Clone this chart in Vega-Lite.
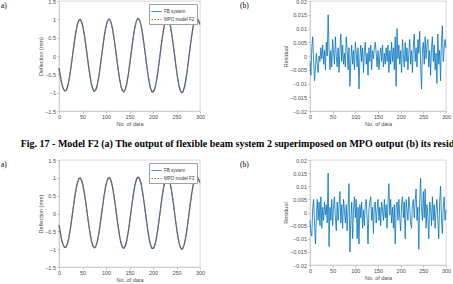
{
  "$schema": "https://vega.github.io/schema/vega-lite/v6.json",
  "padding": {"left": 0, "top": -2, "right": 0, "bottom": 0},
  "background": "white",
  "resolve": {"scale": {"color": "independent", "strokeDash": "independent"}, "legend": {"color": "independent", "strokeDash": "independent"}},
  "config": {
    "font": "Liberation Sans",
    "view": {"stroke": "#bdbdbd", "strokeWidth": 0.6},
    "axis": {
      "labelFontSize": 5.5, "titleFontSize": 5.5, "labelColor": "#4d4d4d", "titleColor": "#4d4d4d",
      "titleFontWeight": "normal", "domainColor": "#bdbdbd", "domainWidth": 0.6, "tickColor": "#bdbdbd",
      "tickSize": 2, "grid": false, "labelPadding": 1.5, "titlePadding": 1.5, "labelFlush": false, "labelOverlap": false
    },
    "title": {"font": "Liberation Serif", "fontSize": 7.5, "fontWeight": "normal", "color": "#000000", "anchor": "start", "frame": "group"}
  },
  "datasets": {
    "sine": [
      {"x":0,"fb":-0.33,"mpo":-0.33},{"x":3,"fb":-0.55,"mpo":-0.55},{"x":6,"fb":-0.76,"mpo":-0.76},{"x":9,"fb":-0.89,"mpo":-0.89},{"x":12,"fb":-0.95,"mpo":-0.95},
      {"x":15,"fb":-0.94,"mpo":-0.94},{"x":18,"fb":-0.85,"mpo":-0.85},{"x":21,"fb":-0.679,"mpo":-0.679},{"x":24,"fb":-0.445,"mpo":-0.445},{"x":27,"fb":-0.167,"mpo":-0.167},
      {"x":30,"fb":0.128,"mpo":0.128},{"x":33,"fb":0.414,"mpo":0.414},{"x":36,"fb":0.664,"mpo":0.664},{"x":39,"fb":0.855,"mpo":0.855},{"x":42,"fb":0.97,"mpo":0.97},
      {"x":45,"fb":0.997,"mpo":0.997},{"x":48,"fb":0.935,"mpo":0.935},{"x":51,"fb":0.789,"mpo":0.789},{"x":54,"fb":0.572,"mpo":0.572},{"x":57,"fb":0.304,"mpo":0.304},
      {"x":60,"fb":0.01,"mpo":0.01},{"x":63,"fb":-0.284,"mpo":-0.284},{"x":66,"fb":-0.55,"mpo":-0.55},{"x":69,"fb":-0.764,"mpo":-0.764},{"x":72,"fb":-0.907,"mpo":-0.907},
      {"x":75,"fb":-0.964,"mpo":-0.964},{"x":78,"fb":-0.932,"mpo":-0.932},{"x":81,"fb":-0.812,"mpo":-0.812},{"x":84,"fb":-0.616,"mpo":-0.616},{"x":87,"fb":-0.36,"mpo":-0.36},
      {"x":90,"fb":-0.07,"mpo":-0.07},{"x":93,"fb":0.229,"mpo":0.229},{"x":96,"fb":0.509,"mpo":0.509},{"x":99,"fb":0.744,"mpo":0.744},{"x":102,"fb":0.913,"mpo":0.913},
      {"x":105,"fb":1.001,"mpo":1.001},{"x":108,"fb":0.999,"mpo":0.999},{"x":111,"fb":0.906,"mpo":0.906},{"x":114,"fb":0.733,"mpo":0.733},{"x":117,"fb":0.494,"mpo":0.494},
      {"x":120,"fb":0.211,"mpo":0.211},{"x":123,"fb":-0.09,"mpo":-0.09},{"x":126,"fb":-0.381,"mpo":-0.381},{"x":129,"fb":-0.636,"mpo":-0.636},{"x":132,"fb":-0.831,"mpo":-0.831},
      {"x":135,"fb":-0.948,"mpo":-0.948},{"x":138,"fb":-0.976,"mpo":-0.976},{"x":141,"fb":-0.913,"mpo":-0.913},{"x":144,"fb":-0.764,"mpo":-0.764},{"x":147,"fb":-0.543,"mpo":-0.543},
      {"x":150,"fb":-0.27,"mpo":-0.27},{"x":153,"fb":0.03,"mpo":0.03},{"x":156,"fb":0.329,"mpo":0.329},{"x":159,"fb":0.6,"mpo":0.6},{"x":162,"fb":0.819,"mpo":0.819},
      {"x":165,"fb":0.964,"mpo":0.964},{"x":168,"fb":1.023,"mpo":1.023},{"x":171,"fb":0.99,"mpo":0.99},{"x":174,"fb":0.867,"mpo":0.867},{"x":177,"fb":0.668,"mpo":0.668},
      {"x":180,"fb":0.408,"mpo":0.408},{"x":183,"fb":0.112,"mpo":0.112},{"x":186,"fb":-0.192,"mpo":-0.192},{"x":189,"fb":-0.477,"mpo":-0.477},{"x":192,"fb":-0.718,"mpo":-0.718},
      {"x":195,"fb":-0.89,"mpo":-0.89},{"x":198,"fb":-0.979,"mpo":-0.979},{"x":201,"fb":-0.977,"mpo":-0.977},{"x":204,"fb":-0.883,"mpo":-0.883},{"x":207,"fb":-0.706,"mpo":-0.706},
      {"x":210,"fb":-0.463,"mpo":-0.463},{"x":213,"fb":-0.174,"mpo":-0.174},{"x":216,"fb":0.132,"mpo":0.132},{"x":219,"fb":0.429,"mpo":0.429},{"x":222,"fb":0.688,"mpo":0.688},
      {"x":225,"fb":0.886,"mpo":0.886},{"x":228,"fb":1.006,"mpo":1.006},{"x":231,"fb":1.034,"mpo":1.034},{"x":234,"fb":0.97,"mpo":0.97},{"x":237,"fb":0.818,"mpo":0.818},
      {"x":240,"fb":0.594,"mpo":0.594},{"x":243,"fb":0.316,"mpo":0.316},{"x":246,"fb":0.01,"mpo":0.01},{"x":249,"fb":-0.295,"mpo":-0.295},{"x":252,"fb":-0.571,"mpo":-0.571},
      {"x":255,"fb":-0.793,"mpo":-0.793},{"x":258,"fb":-0.941,"mpo":-0.941},{"x":261,"fb":-1.001,"mpo":-1.001},{"x":264,"fb":-0.968,"mpo":-0.968},{"x":267,"fb":-0.843,"mpo":-0.843},
      {"x":270,"fb":-0.64,"mpo":-0.64},{"x":273,"fb":-0.375,"mpo":-0.375},{"x":276,"fb":-0.074,"mpo":-0.074},{"x":279,"fb":0.236,"mpo":0.236},{"x":282,"fb":0.526,"mpo":0.526},
      {"x":285,"fb":0.771,"mpo":0.771},{"x":288,"fb":0.947,"mpo":0.947},{"x":291,"fb":1.038,"mpo":1.038},{"x":294,"fb":1.036,"mpo":1.036},{"x":297,"fb":0.96,"mpo":0.96},
      {"x":300,"fb":0.86,"mpo":0.86}
    ],
    "res2": [
      {"x":0,"r":-0.002},{"x":2,"r":-0.007},{"x":4,"r":0.003},{"x":6,"r":0.007},{"x":8,"r":-0.002},{"x":10,"r":-0.009},{"x":12,"r":-0.004},{"x":14,"r":0.001},{"x":16,"r":-0.003},{"x":18,"r":-0.006},
      {"x":20,"r":0.0},{"x":22,"r":-0.002},{"x":24,"r":0.003},{"x":26,"r":-0.001},{"x":28,"r":0.004},{"x":30,"r":-0.003},{"x":32,"r":0.002},{"x":34,"r":-0.005},{"x":36,"r":0.005},{"x":38,"r":0.0},
      {"x":40,"r":0.015},{"x":42,"r":0.003},{"x":44,"r":-0.005},{"x":46,"r":0.002},{"x":48,"r":-0.004},{"x":50,"r":0.006},{"x":52,"r":0.001},{"x":54,"r":-0.003},{"x":56,"r":0.007},{"x":58,"r":0.0},
      {"x":60,"r":-0.004},{"x":62,"r":0.003},{"x":64,"r":-0.006},{"x":66,"r":0.002},{"x":68,"r":0.008},{"x":70,"r":-0.002},{"x":72,"r":0.004},{"x":74,"r":-0.003},{"x":76,"r":0.001},{"x":78,"r":-0.004},
      {"x":80,"r":0.007},{"x":82,"r":0.002},{"x":84,"r":-0.005},{"x":86,"r":0.003},{"x":88,"r":-0.011},{"x":90,"r":-0.002},{"x":92,"r":0.004},{"x":94,"r":-0.003},{"x":96,"r":0.002},{"x":98,"r":-0.005},
      {"x":100,"r":0.005},{"x":102,"r":0.001},{"x":104,"r":-0.004},{"x":106,"r":0.003},{"x":108,"r":-0.012},{"x":110,"r":-0.001},{"x":112,"r":0.004},{"x":114,"r":-0.002},{"x":116,"r":0.003},{"x":118,"r":-0.006},
      {"x":120,"r":0.002},{"x":122,"r":0.005},{"x":124,"r":-0.003},{"x":126,"r":0.001},{"x":128,"r":-0.007},{"x":130,"r":0.003},{"x":132,"r":-0.002},{"x":134,"r":0.004},{"x":136,"r":-0.005},{"x":138,"r":0.002},
      {"x":140,"r":-0.001},{"x":142,"r":0.003},{"x":144,"r":0.005},{"x":146,"r":0.001},{"x":148,"r":-0.004},{"x":150,"r":0.002},{"x":152,"r":-0.005},{"x":154,"r":0.0},{"x":156,"r":0.003},{"x":158,"r":-0.002},
      {"x":160,"r":0.004},{"x":162,"r":-0.004},{"x":164,"r":0.001},{"x":166,"r":-0.003},{"x":168,"r":0.003},{"x":170,"r":-0.002},{"x":172,"r":0.004},{"x":174,"r":-0.006},{"x":176,"r":0.002},{"x":178,"r":-0.003},
      {"x":180,"r":0.005},{"x":182,"r":-0.002},{"x":184,"r":0.003},{"x":186,"r":-0.005},{"x":188,"r":0.007},{"x":190,"r":-0.011},{"x":192,"r":0.01},{"x":194,"r":-0.001},{"x":196,"r":0.004},{"x":198,"r":-0.003},
      {"x":200,"r":0.002},{"x":202,"r":-0.006},{"x":204,"r":0.006},{"x":206,"r":0.0},{"x":208,"r":-0.004},{"x":210,"r":0.005},{"x":212,"r":-0.002},{"x":214,"r":0.003},{"x":216,"r":-0.005},{"x":218,"r":0.001},
      {"x":220,"r":0.006},{"x":222,"r":-0.003},{"x":224,"r":0.002},{"x":226,"r":-0.006},{"x":228,"r":0.004},{"x":230,"r":0.008},{"x":232,"r":-0.002},{"x":234,"r":0.003},{"x":236,"r":-0.004},{"x":238,"r":0.006},
      {"x":240,"r":0.001},{"x":242,"r":0.009},{"x":244,"r":-0.003},{"x":246,"r":-0.012},{"x":248,"r":0.002},{"x":250,"r":0.005},{"x":252,"r":-0.003},{"x":254,"r":0.007},{"x":256,"r":-0.001},{"x":258,"r":0.004},
      {"x":260,"r":0.006},{"x":262,"r":-0.004},{"x":264,"r":0.002},{"x":266,"r":-0.007},{"x":268,"r":0.003},{"x":270,"r":0.007},{"x":272,"r":-0.002},{"x":274,"r":0.004},{"x":276,"r":-0.005},{"x":278,"r":0.001},
      {"x":280,"r":-0.01},{"x":282,"r":0.008},{"x":284,"r":-0.003},{"x":286,"r":0.002},{"x":288,"r":-0.009},{"x":290,"r":0.005},{"x":292,"r":0.011},{"x":294,"r":-0.002},{"x":296,"r":0.003},{"x":298,"r":0.006},
      {"x":300,"r":0.003}
    ],
    "res3": [
      {"x":0,"r":-0.003},{"x":2,"r":-0.008},{"x":4,"r":-0.009},{"x":6,"r":0.002},{"x":8,"r":0.005},{"x":10,"r":-0.004},{"x":12,"r":-0.012},{"x":14,"r":-0.002},{"x":16,"r":0.005},{"x":18,"r":-0.003},
      {"x":20,"r":0.004},{"x":22,"r":-0.005},{"x":24,"r":0.006},{"x":26,"r":-0.006},{"x":28,"r":0.002},{"x":30,"r":-0.003},{"x":32,"r":0.004},{"x":34,"r":-0.001},{"x":36,"r":0.003},{"x":38,"r":-0.004},
      {"x":40,"r":0.015},{"x":42,"r":-0.013},{"x":44,"r":0.002},{"x":46,"r":-0.003},{"x":48,"r":0.005},{"x":50,"r":-0.005},{"x":52,"r":0.003},{"x":54,"r":0.006},{"x":56,"r":-0.002},{"x":58,"r":-0.007},
      {"x":60,"r":0.004},{"x":62,"r":-0.003},{"x":64,"r":0.002},{"x":66,"r":0.008},{"x":68,"r":-0.004},{"x":70,"r":0.003},{"x":72,"r":-0.006},{"x":74,"r":0.005},{"x":76,"r":0.001},{"x":78,"r":-0.004},
      {"x":80,"r":0.003},{"x":82,"r":-0.007},{"x":84,"r":0.002},{"x":86,"r":0.011},{"x":88,"r":-0.015},{"x":90,"r":-0.003},{"x":92,"r":0.004},{"x":94,"r":-0.01},{"x":96,"r":0.001},{"x":98,"r":0.006},
      {"x":100,"r":-0.002},{"x":102,"r":0.005},{"x":104,"r":-0.01},{"x":106,"r":0.002},{"x":108,"r":-0.012},{"x":110,"r":0.003},{"x":112,"r":-0.002},{"x":114,"r":0.004},{"x":116,"r":-0.006},{"x":118,"r":0.001},
      {"x":120,"r":-0.005},{"x":122,"r":0.003},{"x":124,"r":0.005},{"x":126,"r":-0.002},{"x":128,"r":-0.012},{"x":130,"r":0.001},{"x":132,"r":0.004},{"x":134,"r":0.006},{"x":136,"r":-0.003},{"x":138,"r":0.002},
      {"x":140,"r":-0.008},{"x":142,"r":0.003},{"x":144,"r":0.004},{"x":146,"r":-0.004},{"x":148,"r":0.001},{"x":150,"r":0.005},{"x":152,"r":-0.003},{"x":154,"r":0.002},{"x":156,"r":-0.005},{"x":158,"r":0.004},
      {"x":160,"r":0.001},{"x":162,"r":-0.003},{"x":164,"r":0.005},{"x":166,"r":-0.002},{"x":168,"r":0.003},{"x":170,"r":-0.006},{"x":172,"r":0.004},{"x":174,"r":0.011},{"x":176,"r":-0.001},{"x":178,"r":0.005},
      {"x":180,"r":-0.004},{"x":182,"r":0.002},{"x":184,"r":-0.006},{"x":186,"r":0.003},{"x":188,"r":-0.012},{"x":190,"r":0.002},{"x":192,"r":0.004},{"x":194,"r":-0.003},{"x":196,"r":0.005},{"x":198,"r":-0.002},
      {"x":200,"r":-0.007},{"x":202,"r":0.003},{"x":204,"r":0.006},{"x":206,"r":-0.002},{"x":208,"r":0.004},{"x":210,"r":-0.01},{"x":212,"r":0.005},{"x":214,"r":0.001},{"x":216,"r":-0.003},{"x":218,"r":0.006},
      {"x":220,"r":0.002},{"x":222,"r":-0.004},{"x":224,"r":-0.006},{"x":226,"r":0.003},{"x":228,"r":0.005},{"x":230,"r":-0.002},{"x":232,"r":0.004},{"x":234,"r":0.009},{"x":236,"r":-0.003},{"x":238,"r":0.002},
      {"x":240,"r":-0.014},{"x":242,"r":0.005},{"x":244,"r":0.013},{"x":246,"r":0.001},{"x":248,"r":-0.003},{"x":250,"r":0.008},{"x":252,"r":-0.002},{"x":254,"r":0.009},{"x":256,"r":-0.006},{"x":258,"r":0.003},
      {"x":260,"r":-0.002},{"x":262,"r":-0.01},{"x":264,"r":0.004},{"x":266,"r":0.002},{"x":268,"r":-0.005},{"x":270,"r":0.006},{"x":272,"r":-0.003},{"x":274,"r":0.003},{"x":276,"r":-0.006},{"x":278,"r":0.001},
      {"x":280,"r":0.005},{"x":282,"r":-0.003},{"x":284,"r":-0.01},{"x":286,"r":0.004},{"x":288,"r":0.01},{"x":290,"r":-0.002},{"x":292,"r":-0.008},{"x":294,"r":0.002},{"x":296,"r":0.006},{"x":298,"r":-0.003},
      {"x":300,"r":0.001}
    ]
  },
  "spacing": 10,
  "vconcat": [
    {
      "spacing": 34,
      "resolve": {"scale": {"color": "independent", "strokeDash": "independent"}, "legend": {"color": "independent", "strokeDash": "independent"}},
      "hconcat": [
        {
          "width": 141, "height": 110,
          "title": {"text": "a)", "dx": -58, "offset": -10},
          "data": {"name": "sine"},
          "transform": [{"fold": ["fb", "mpo"], "as": ["seriesF2", "v"]}],
          "mark": {"type": "line", "strokeWidth": 1.2},
          "encoding": {
            "x": {"field": "x", "type": "quantitative", "scale": {"domain": [0, 300], "nice": false}, "axis": {"values": [0, 50, 100, 150, 200, 250, 300], "title": "No. of data"}},
            "y": {"field": "v", "type": "quantitative", "scale": {"domain": [-1.5, 1.5], "nice": false}, "axis": {"values": [-1.5, -1, -0.5, 0, 0.5, 1, 1.5], "format": "~g", "title": "Deflection (mm)"}},
            "color": {"field": "seriesF2", "type": "nominal", "scale": {"domain": ["fb", "mpo"], "range": ["#0072BD", "#D95319"]},
              "legend": {"orient": "top-right", "offset": 3, "title": null, "labelFontSize": 4.5, "labelColor": "#333333", "symbolType": "stroke", "symbolSize": 100, "symbolStrokeWidth": 1, "strokeColor": "#a0a0a0", "fillColor": "white", "padding": 2, "rowPadding": 0, "labelOffset": 2, "labelExpr": "datum.label == 'fb' ? 'FB system' : 'MPO model F2'"}},
            "strokeDash": {"field": "seriesF2", "type": "nominal", "scale": {"domain": ["fb", "mpo"], "range": [[1, 0], [1.5, 1.5]]},
              "legend": {"orient": "top-right", "offset": 3, "title": null, "labelFontSize": 4.5, "labelColor": "#333333", "symbolType": "stroke", "symbolSize": 100, "symbolStrokeWidth": 1, "strokeColor": "#a0a0a0", "fillColor": "white", "padding": 2, "rowPadding": 0, "labelOffset": 2, "labelExpr": "datum.label == 'fb' ? 'FB system' : 'MPO model F2'"}}
          }
        },
        {
          "width": 136, "height": 110,
          "title": {"text": "(b)", "dx": -70, "offset": -10},
          "data": {"name": "res2"},
          "mark": {"type": "line", "strokeWidth": 0.8, "color": "#0072BD"},
          "encoding": {
            "x": {"field": "x", "type": "quantitative", "scale": {"domain": [0, 300], "nice": false}, "axis": {"values": [0, 50, 100, 150, 200, 250, 300], "title": "No. of data"}},
            "y": {"field": "r", "type": "quantitative", "scale": {"domain": [-0.02, 0.02], "nice": false}, "axis": {"values": [-0.02, -0.015, -0.01, -0.005, 0, 0.005, 0.01, 0.015, 0.02], "format": "~g", "title": "Residual"}}
          }
        }
      ]
    },
    {
      "title": {"text": "Fig. 17 - Model F2 (a) The output of flexible beam system 2 superimposed on MPO output (b) its residual", "font": "Liberation Serif", "fontWeight": "bold", "fontSize": 10, "frame": "bounds", "anchor": "start", "dx": 20, "offset": 9},
      "spacing": 34,
      "resolve": {"scale": {"color": "independent", "strokeDash": "independent"}, "legend": {"color": "independent", "strokeDash": "independent"}},
      "hconcat": [
        {
          "width": 141, "height": 107,
          "title": {"text": "a)", "dx": -58, "offset": -10},
          "data": {"name": "sine"},
          "transform": [{"fold": ["fb", "mpo"], "as": ["seriesF3", "v"]}],
          "mark": {"type": "line", "strokeWidth": 1.2},
          "encoding": {
            "x": {"field": "x", "type": "quantitative", "scale": {"domain": [0, 300], "nice": false}, "axis": {"values": [0, 50, 100, 150, 200, 250, 300], "title": "No. of data"}},
            "y": {"field": "v", "type": "quantitative", "scale": {"domain": [-1.5, 1.5], "nice": false}, "axis": {"values": [-1.5, -1, -0.5, 0, 0.5, 1, 1.5], "format": "~g", "title": "Deflection (mm)"}},
            "color": {"field": "seriesF3", "type": "nominal", "scale": {"domain": ["fb", "mpo"], "range": ["#0072BD", "#D95319"]},
              "legend": {"orient": "top-right", "offset": 3, "title": null, "labelFontSize": 4.5, "labelColor": "#333333", "symbolType": "stroke", "symbolSize": 100, "symbolStrokeWidth": 1, "strokeColor": "#a0a0a0", "fillColor": "white", "padding": 2, "rowPadding": 0, "labelOffset": 2, "labelExpr": "datum.label == 'fb' ? 'FB system' : 'MPO model F3'"}},
            "strokeDash": {"field": "seriesF3", "type": "nominal", "scale": {"domain": ["fb", "mpo"], "range": [[1, 0], [1.5, 1.5]]},
              "legend": {"orient": "top-right", "offset": 3, "title": null, "labelFontSize": 4.5, "labelColor": "#333333", "symbolType": "stroke", "symbolSize": 100, "symbolStrokeWidth": 1, "strokeColor": "#a0a0a0", "fillColor": "white", "padding": 2, "rowPadding": 0, "labelOffset": 2, "labelExpr": "datum.label == 'fb' ? 'FB system' : 'MPO model F3'"}}
          }
        },
        {
          "width": 136, "height": 105,
          "title": {"text": "(b)", "dx": -70, "offset": -10},
          "data": {"name": "res3"},
          "mark": {"type": "line", "strokeWidth": 0.8, "color": "#0072BD"},
          "encoding": {
            "x": {"field": "x", "type": "quantitative", "scale": {"domain": [0, 300], "nice": false}, "axis": {"values": [0, 50, 100, 150, 200, 250, 300], "title": "No. of data"}},
            "y": {"field": "r", "type": "quantitative", "scale": {"domain": [-0.02, 0.02], "nice": false}, "axis": {"values": [-0.02, -0.015, -0.01, -0.005, 0, 0.005, 0.01, 0.015, 0.02], "format": "~g", "title": "Residual"}}
          }
        }
      ]
    }
  ]
}
